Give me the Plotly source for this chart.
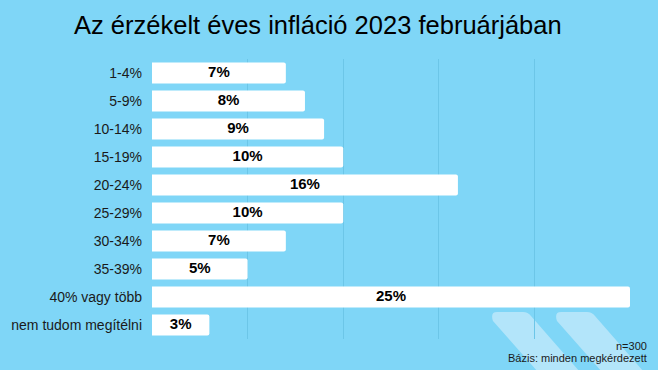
import plotly.graph_objects as go

categories = ["1-4%", "5-9%", "10-14%", "15-19%", "20-24%", "25-29%",
              "30-34%", "35-39%", "40% vagy több", "nem tudom megítélni"]
values = [7, 8, 9, 10, 16, 10, 7, 5, 25, 3]
labels = [f"{v}%" for v in values]
title_text = "Az érzékelt éves infláció 2023 februárjában"
note_n = "n=300"
note_base = "Bázis: minden megkérdezett"

W, H = 658, 370
BG = "#7fd6f7"
GRID = "#6cc6e8"
CHEV = "#b3e5fa"
FONT = "Liberation Sans, Arial, sans-serif"

def px(x):
    return x / W

def py(y):
    return 1 - y / H

fig = go.Figure()
fig.add_trace(go.Bar(
    x=values, y=categories, orientation="h",
    marker=dict(color="white", line=dict(width=0), cornerradius=2),
    hoverinfo="skip",
))
fig.add_trace(go.Scatter(
    x=[v / 2 for v in values], y=categories, mode="text", text=labels,
    textposition="middle center",
    textfont=dict(family=FONT, size=15, color="black", weight="bold"),
    hoverinfo="skip", cliponaxis=False,
))

def chevron(x0):
    def P(a, b):
        return f"{px(a):.5f},{py(b):.5f}"
    d = (f"M {P(x0 + 5, 312)} L {P(x0 + 31, 312)} "
         f"Q {P(x0 + 36, 312)} {P(x0 + 39, 316)} "
         f"L {P(x0 + 88, 372)} L {P(x0 + 46, 372)} "
         f"L {P(x0 + 1, 321)} "
         f"Q {P(x0 - 2, 312)} {P(x0 + 5, 312)} Z")
    return dict(type="path", path=d, xref="paper", yref="paper",
                fillcolor=CHEV, line=dict(width=0), layer="below")

fig.update_layout(
    width=W, height=H,
    margin=dict(l=0, r=0, t=0, b=0, autoexpand=False),
    paper_bgcolor=BG, plot_bgcolor=BG,
    showlegend=False,
    bargap=0.25,
    xaxis=dict(domain=[px(152), px(630)], range=[0, 25], dtick=5,
               showgrid=True, gridcolor=GRID, gridwidth=1,
               showticklabels=False, zeroline=False, showline=False,
               fixedrange=True),
    yaxis=dict(domain=[py(339), py(59)], autorange="reversed",
               showgrid=False, showline=False, zeroline=False,
               ticks="", ticklabelstandoff=9,
               tickfont=dict(family=FONT, size=14, color="#1a1a1a"),
               fixedrange=True),
    shapes=[chevron(492), chevron(556)],
    annotations=[
        dict(text=title_text, x=px(318), y=py(25), xref="paper", yref="paper",
             showarrow=False, xanchor="center", yanchor="middle",
             font=dict(family=FONT, size=25.5, color="black")),
        dict(text=note_n, x=px(649), y=py(346), xref="paper", yref="paper",
             showarrow=False, xanchor="right", yanchor="middle",
             font=dict(family=FONT, size=11, color="#1a1a1a")),
        dict(text=note_base, x=px(649), y=py(358), xref="paper", yref="paper",
             showarrow=False, xanchor="right", yanchor="middle",
             font=dict(family=FONT, size=11, color="#1a1a1a")),
    ],
)

fig.write_html("out.html", config={"displayModeBar": False})
